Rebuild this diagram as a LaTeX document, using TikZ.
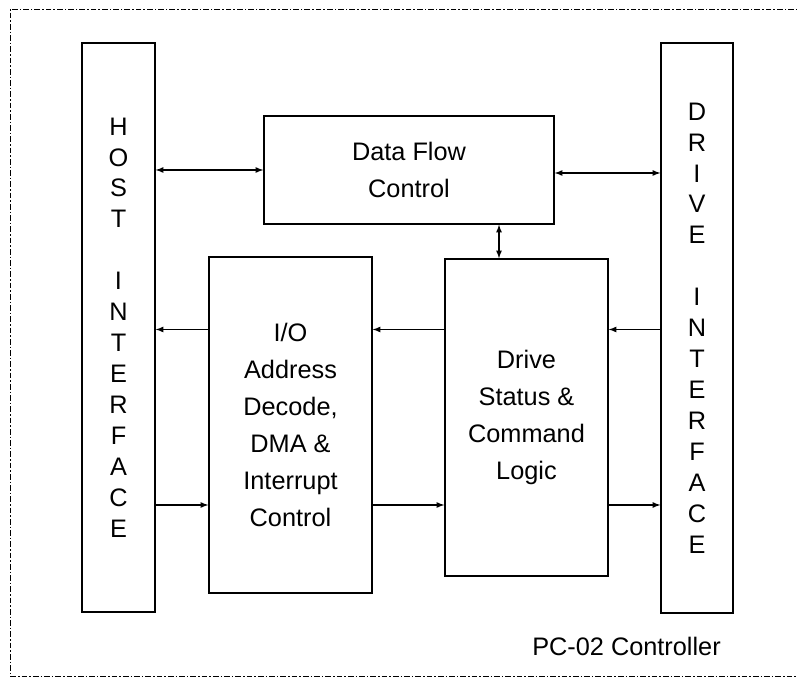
\documentclass[tikz,border=0pt]{standalone}
\usepackage{fontspec}
\setmainfont{Liberation Sans}
\usetikzlibrary{arrows}

\begin{document}
\begin{tikzpicture}[x=0.025cm,y=-0.025cm,
	block_node/.style={draw,line width=0.9pt,align=center,inner sep=0pt,
		font=\fontsize{18}{26.3}\selectfont},
	bus_node/.style={draw,line width=0.9pt,align=center,inner sep=0pt,
		font=\fontsize{18}{22}\selectfont},
	link/.style={line width=0.9pt}]

		\useasboundingbox (0,0) rectangle (797,681);

		% frame round the controller
		\draw[line width=0.5pt,dash pattern=on 4pt off 1.5pt on 1pt off 1.5pt]
			(805,9) -- (10,9) -- (10,676) -- (805,676);

		\node[bus_node,minimum width=1.825cm,minimum height=14.225cm] (host) at (118.5,327.5)
			{H\\O\\S\\T\\[22pt]I\\N\\T\\E\\R\\F\\A\\C\\E};
		\node[bus_node,minimum width=1.8cm,minimum height=14.25cm] (drive) at (697,328)
			{D\\R\\I\\V\\E\\[22pt]I\\N\\T\\E\\R\\F\\A\\C\\E};
		\node[block_node,minimum width=7.25cm,minimum height=2.7cm] (flow) at (409,170)
			{Data Flow\\Control};
		\node[block_node,minimum width=4.075cm,minimum height=8.4cm] (io) at (290.5,425)
			{I/O\\Address\\Decode,\\DMA \&\\Interrupt\\Control};
		\node[block_node,minimum width=4.075cm,minimum height=7.925cm] (logic) at (526.5,417.5)
			{Drive\\Status \&\\Command\\Logic};
		\node[anchor=base west,inner sep=0pt,font=\fontsize{18}{21}\selectfont] (name) at (532,656)
			{PC-02 Controller};

		\coordinate (r1) at (0,329.5);
		\coordinate (r2) at (0,505);
		\coordinate (c1) at (499,0);

		\draw[link,latex-latex] (host.east |- flow.west) -- (flow.west);
		\draw[link,latex-latex] ([yshift=-0.075cm]flow.east) -- ([yshift=-0.075cm]drive.west |- flow.east);
		\draw[link,latex-latex] (flow.south -| c1) -- (logic.north -| c1);

		\draw[link,-latex] (io.west |- r1) -- (host.east |- r1);
		\draw[link,-latex] (logic.west |- r1) -- (io.east |- r1);
		\draw[link,-latex] (drive.west |- r1) -- (logic.east |- r1);
		\draw[link,-latex] (host.east |- r2) -- (io.west |- r2);
		\draw[link,-latex] (io.east |- r2) -- (logic.west |- r2);
		\draw[link,-latex] (logic.east |- r2) -- (drive.west |- r2);
		\end{tikzpicture}
\end{document}
